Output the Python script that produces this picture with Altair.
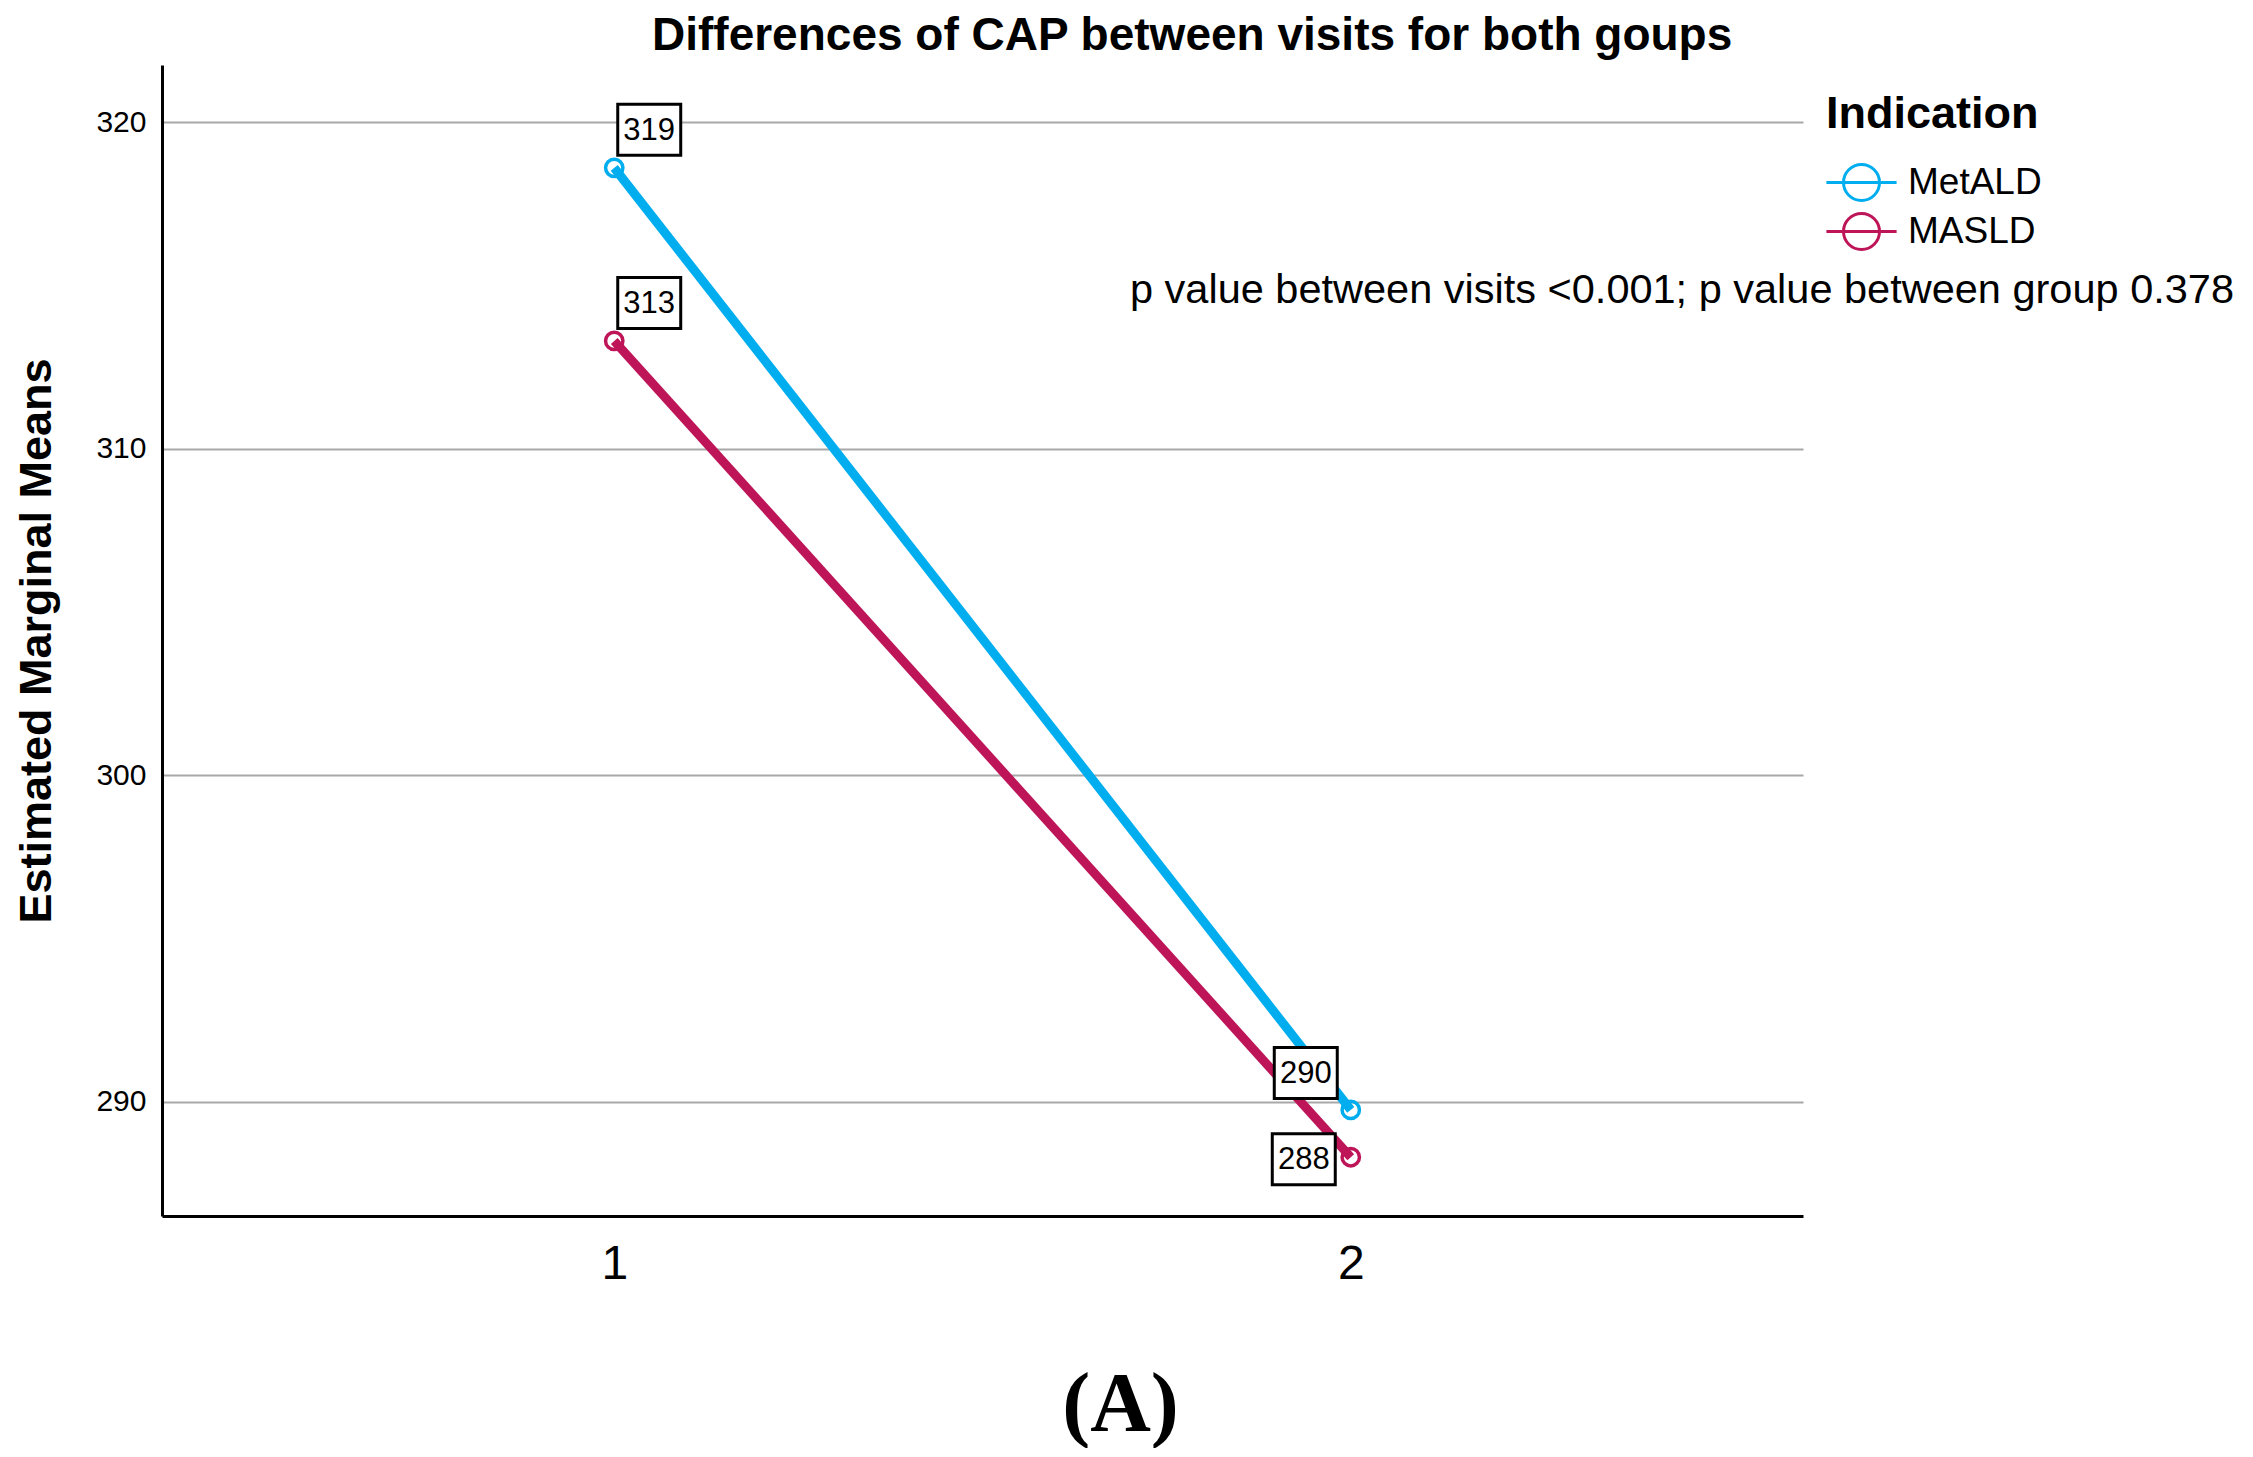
import altair as alt
import pandas as pd

# ---- data ----
visits = [1, 2]
groups = ["MetALD", "MASLD"]
metald_means = [318.6, 289.75]
masld_means = [313.3, 288.3]
series_colors = ["#00AEEF", "#BE1558"]
y_ticks = [290, 300, 310, 320]
x_ticks = [1, 2]
title_text = "Differences of CAP between visits for both goups"
y_title = "Estimated Marginal Means"
legend_title = "Indication"
note_text = "p value between visits <0.001; p value between group 0.378"
panel_label = "(A)"

rows = []
for g, vals in zip(groups, [metald_means, masld_means]):
    for v, m in zip(visits, vals):
        rows.append({"Visit": v, "Indication": g, "Mean": m, "Label": f"{m:.0f}"})
df = pd.DataFrame(rows)
note_df = pd.DataFrame({"note": [note_text]})

# ---- style / layout ----
FONT = "Liberation Sans"
W, H = 1641, 1151
x_dom = [0.386, 2.614]
y_dom = [286.5, 321.75]

legend_symbol = "M-1.95,0L1.95,0M-1,0A1,1,0,1,1,1,0A1,1,0,1,1,-1,0"
legend = alt.Legend(
    title=legend_title, orient="none", legendX=1664, legendY=27,
    symbolType=legend_symbol, symbolSize=1296, symbolStrokeWidth=3,
    symbolFillColor="transparent",
    symbolOffset=16, labelOffset=27,
    titleFont=FONT, titleFontSize=45, titleFontWeight="bold", titleColor="black",
    titleLimit=600, labelLimit=600,
    labelFont=FONT, labelFontSize=37, labelColor="black",
    titlePadding=26, rowPadding=0, padding=0,
)
color = alt.Color(
    "Indication:N",
    scale=alt.Scale(domain=groups, range=series_colors),
    legend=legend,
)

x_enc = alt.X(
    "Visit:Q",
    scale=alt.Scale(domain=x_dom, nice=False, zero=False),
    axis=alt.Axis(
        values=x_ticks, format="d", grid=False, ticks=False,
        domainColor="black", domainWidth=3,
        labelFontSize=48, labelFont=FONT, labelColor="black", labelPadding=24,
        title=panel_label, titleFont="Liberation Serif", titleFontSize=84,
        titleFontWeight="bold", titleColor="black",
        titleX=958, titleY=214, titleBaseline="alphabetic", titleAlign="center",
    ),
)
y_enc = alt.Y(
    "Mean:Q",
    scale=alt.Scale(domain=y_dom, nice=False, zero=False),
    axis=alt.Axis(
        values=y_ticks, grid=True, gridColor="#A8A8A8", gridWidth=2,
        ticks=False, domainColor="black", domainWidth=3,
        labelFontSize=30, labelFont=FONT, labelColor="black", labelPadding=16,
        title=y_title, titleFont=FONT, titleFontSize=45, titleFontWeight="bold",
        titleColor="black", titleAngle=270, titleX=-112, titleY=H / 2,
        titleBaseline="alphabetic", titleAlign="center",
    ),
)

base = alt.Chart(df)

lines = base.mark_line(strokeWidth=9).encode(
    x=x_enc, y=y_enc, color=color, detail="Indication:N"
)

points = base.mark_point(filled=False, size=300, strokeWidth=3.5, opacity=1).encode(
    x="Visit:Q", y="Mean:Q", color=color,
)

# value label boxes: (group, visit) -> pixel offset of the box centre
label_offsets = {
    ("MetALD", 1): (35, -38),
    ("MASLD", 1): (35, -38),
    ("MetALD", 2): (-45, -37),
    ("MASLD", 2): (-47, 2),
}
box_path = "M-1.235,-1L1.235,-1L1.235,1L-1.235,1Z"
label_layers = []
for (g, v), (dx, dy) in label_offsets.items():
    sel = base.transform_filter(
        (alt.datum.Indication == g) & (alt.datum.Visit == v)
    )
    box = sel.mark_point(
        shape=box_path, size=2601, filled=True, fill="white", stroke="black",
        strokeWidth=3, opacity=1, xOffset=dx, yOffset=dy,
    ).encode(x="Visit:Q", y="Mean:Q")
    txt = sel.mark_text(
        font=FONT, fontSize=31, color="black", dx=dx, dy=dy + 1,
        align="center", baseline="middle",
    ).encode(x="Visit:Q", y="Mean:Q", text="Label:N")
    label_layers += [box, txt]

note = alt.Chart(note_df).mark_text(
    font=FONT, fontSize=41.5, color="black", align="left", baseline="alphabetic",
).encode(x=alt.value(968), y=alt.value(238), text="note:N")

chart = alt.layer(lines, points, *label_layers, note).properties(
    width=W,
    height=H,
    background="white",
    autosize=alt.AutoSizeParams(type="none"),
    padding={"left": 154, "top": 57, "right": 436, "bottom": 232},
    title=alt.TitleParams(
        title_text, anchor="start", dx=638, font=FONT, fontSize=46,
        fontWeight="bold", color="black", offset=5,
    ),
).configure_view(strokeWidth=0, strokeOpacity=0)

chart.save("out.html", embed_options={"renderer": "svg", "actions": False})
